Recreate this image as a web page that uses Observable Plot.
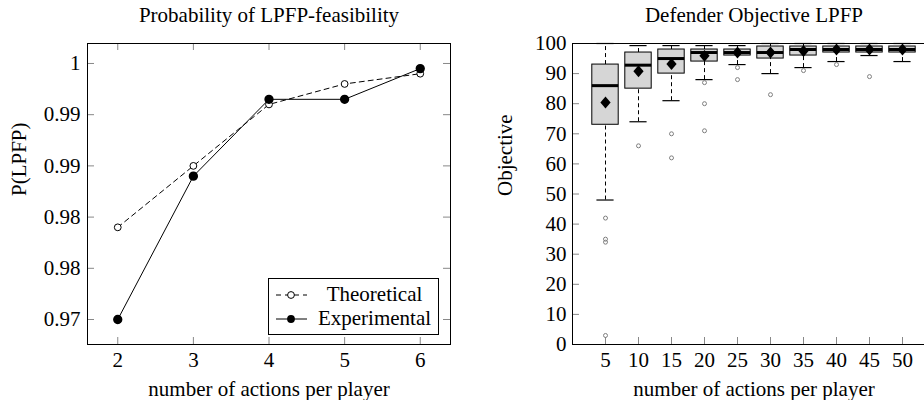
<!DOCTYPE html>
<html><head><meta charset="utf-8">
<script src="https://cdn.jsdelivr.net/npm/d3@7"></script>
<script src="https://cdn.jsdelivr.net/npm/@observablehq/plot@0.6"></script>
<style>
body{margin:0;background:#fff;}
#wrap{position:relative;width:924px;height:400px;overflow:hidden;display:flex;font-family:"Liberation Serif",serif;}
.panel{position:relative;flex:none;}
.legend{position:absolute;left:268px;top:278px;width:171px;height:57px;border:1px solid #000;box-sizing:border-box;background:#fff;font-size:21px;color:#000;font-family:"Liberation Serif",serif;}
.legend .row{position:absolute;left:0;width:100%;height:24px;}
.legend svg{position:absolute;left:6px;top:0;}
.legend span{position:absolute;left:42px;right:0;text-align:center;top:-1px;line-height:24px;}
</style></head>
<body><div id="wrap"><div class="panel" id="left"></div><div class="panel" id="right"></div></div>
<script>
// ---------- Left chart data ----------
const actions = [2, 3, 4, 5, 6];
const theoretical = [0.979, 0.985, 0.991, 0.993, 0.994];
const experimental = [0.970, 0.984, 0.9915, 0.9915, 0.9945];
const leftYTicks = [0.97, 0.975, 0.98, 0.985, 0.99, 0.995];
const leftYTickLabels = ["0.97", "0.98", "0.98", "0.99", "0.99", "1"];
const leftTitle = "Probability of LPFP-feasibility";
const leftYLabel = "P(LPFP)";
const xLabel = "number of actions per player";
const seriesNames = ["Theoretical", "Experimental"];

// ---------- Right chart data ----------
const boxActions = [5, 10, 15, 20, 25, 30, 35, 40, 45, 50];
const lowerWhisker = [48, 74, 81, 88, 93, 90, 92, 94, 96, 94];
const q1 = [73, 85, 90, 94, 96, 95, 96, 97, 97, 97];
const median = [86, 92.8, 95, 97, 97, 97, 98, 98, 98, 98];
const q3 = [93, 97, 98, 98, 98, 99, 99, 99, 99, 99];
const upperWhisker = [100, 99.3, 99.3, 99.3, 99.3, 100, 100, 100, 100, 100];
const means = [80.4, 90.8, 93.2, 95.9, 97, 97, 97.5, 98, 98, 98];
const outlierActions = [5, 5, 5, 5, 10, 15, 15, 20, 20, 20, 25, 25, 30, 35, 40, 45];
const outlierValues = [42, 35, 34, 3, 66, 70, 62, 87, 80, 71, 92, 88, 83, 91, 93, 89];
const rightYTicks = [0, 10, 20, 30, 40, 50, 60, 70, 80, 90, 100];
const rightTitle = "Defender Objective LPFP";
const rightYLabel = "Objective";

const FONT = '"Liberation Serif", serif';
const baseStyle = {fontFamily: FONT, fontSize: "21px", color: "#000", background: "transparent", overflow: "hidden"};

// ---------- Left chart ----------
const leftData = actions.map((a, i) => ({a, t: theoretical[i], e: experimental[i]}));
const LW = 460, LH = 400, LML = 87, LMR = 10, LMT = 43, LMB = 56;
const lInnerW = LW - LML - LMR, lInnerH = LH - LMT - LMB;
const TL = 7;

const left = Plot.plot({
  width: LW, height: LH, marginLeft: LML, marginRight: LMR, marginTop: LMT, marginBottom: LMB,
  style: baseStyle,
  x: {domain: [1.6, 6.4], ticks: actions, tickFormat: d => String(d), tickSize: 0, tickPadding: 8, label: null},
  y: {domain: [0.96756, 0.99695], ticks: leftYTicks, tickFormat: d => leftYTickLabels[leftYTicks.indexOf(d)], tickSize: 0, tickPadding: 7, label: null},
  marks: [
    Plot.tickX(actions, {x: d => d, insetTop: lInnerH - TL, stroke: "#888"}),
    Plot.tickX(actions, {x: d => d, insetBottom: lInnerH - TL, stroke: "#888"}),
    Plot.tickY(leftYTicks, {y: d => d, insetRight: lInnerW - TL, stroke: "#888"}),
    Plot.tickY(leftYTicks, {y: d => d, insetLeft: lInnerW - TL, stroke: "#888"}),
    Plot.frame({stroke: "#000", strokeWidth: 1}),
    Plot.line(leftData, {x: "a", y: "t", stroke: "#000", strokeWidth: 1, strokeDasharray: "5,4"}),
    Plot.dot(leftData, {x: "a", y: "t", r: 3.4, stroke: "#000", fill: "#fff", strokeWidth: 1}),
    Plot.line(leftData, {x: "a", y: "e", stroke: "#000", strokeWidth: 1}),
    Plot.dot(leftData, {x: "a", y: "e", r: 3.9, fill: "#000", stroke: "#000"}),
    Plot.text([leftTitle], {frameAnchor: "top", dy: -22, lineAnchor: "bottom", fontSize: 21, fill: "#000"}),
    Plot.text([xLabel], {frameAnchor: "bottom", dy: 51, lineAnchor: "bottom", fontSize: 21, fill: "#000"}),
    Plot.text([leftYLabel], {frameAnchor: "left", dx: -68, dy: 2, rotate: -90, lineAnchor: "middle", fontSize: 21, fill: "#000"})
  ]
});
document.getElementById("left").appendChild(left);

// Legend
const lg = document.createElement("div");
lg.className = "legend";
lg.innerHTML = `
 <div class="row" style="top:4px"><svg width="34" height="24"><line x1="1" y1="12" x2="32" y2="12" stroke="#000" stroke-dasharray="5,4"/><circle cx="16" cy="12" r="3.4" fill="#fff" stroke="#000"/></svg><span>${seriesNames[0]}</span></div>
 <div class="row" style="top:28px"><svg width="34" height="24"><line x1="1" y1="12" x2="32" y2="12" stroke="#000"/><circle cx="16" cy="12" r="3.9" fill="#000"/></svg><span>${seriesNames[1]}</span></div>`;
document.getElementById("left").appendChild(lg);

// ---------- Right chart ----------
const boxes = boxActions.map((a, i) => ({a, lo: lowerWhisker[i], q1: q1[i], med: median[i], q3: q3[i], hi: upperWhisker[i], mean: means[i]}));
const outliers = outlierActions.map((a, i) => ({a, v: outlierValues[i]}));
const RW = 464, RH = 400, RML = 112, RMT = 43, RMB = 56;
const rInnerW = RW - RML, rInnerH = RH - RMT - RMB;
const pxPerUnit = 6.6;
const BOXHALF = 2, CAPHALF = 1.3;

const diamond = {
  draw(ctx, size) {
    const h = Math.sqrt(size) * 0.6, w = h * 0.86;
    ctx.moveTo(0, -h); ctx.lineTo(w, 0); ctx.lineTo(0, h); ctx.lineTo(-w, 0); ctx.closePath();
  }
};

const right = Plot.plot({
  width: RW, height: RH, marginLeft: RML, marginRight: 0, marginTop: RMT, marginBottom: RMB,
  style: baseStyle,
  x: {domain: [0, 55], range: [RML, RML + 55 * pxPerUnit], ticks: boxActions, tickFormat: d => String(d), tickSize: 0, tickPadding: 8, label: null},
  y: {domain: [0, 100], ticks: rightYTicks, tickFormat: d => String(d), tickSize: 0, tickPadding: 6, label: null},
  marks: [
    Plot.tickX(boxActions, {x: d => d, insetTop: rInnerH - TL, stroke: "#888"}),
    Plot.tickY(rightYTicks, {y: d => d, insetRight: rInnerW - TL, stroke: "#888"}),
    Plot.ruleX(boxes, {x: "a", y1: "q3", y2: "hi", stroke: "#000", strokeDasharray: "4,3"}),
    Plot.ruleX(boxes, {x: "a", y1: "lo", y2: "q1", stroke: "#000", strokeDasharray: "4,3"}),
    Plot.ruleY(boxes, {y: "hi", x1: d => d.a - CAPHALF, x2: d => d.a + CAPHALF, stroke: "#000", strokeWidth: 1.2}),
    Plot.ruleY(boxes, {y: "lo", x1: d => d.a - CAPHALF, x2: d => d.a + CAPHALF, stroke: "#000", strokeWidth: 1.2}),
    Plot.rect(boxes, {x1: d => d.a - BOXHALF, x2: d => d.a + BOXHALF, y1: "q1", y2: "q3", fill: "#d6d6d6", stroke: "#000", strokeWidth: 1}),
    Plot.ruleY(boxes, {y: "med", x1: d => d.a - BOXHALF, x2: d => d.a + BOXHALF, stroke: "#000", strokeWidth: 3}),
    Plot.dot(boxes, {x: "a", y: "mean", symbol: diamond, r: 5.6, fill: "#000", stroke: "none"}),
    Plot.dot(outliers, {x: "a", y: "v", r: 2, stroke: "#808080", fill: "none", strokeWidth: 1}),
    Plot.ruleX([0], {stroke: "#000"}),
    Plot.ruleY([0, 100], {stroke: "#000"}),
    Plot.text([rightTitle], {x: 27.5, frameAnchor: "top", dy: -22, lineAnchor: "bottom", fontSize: 21, fill: "#000"}),
    Plot.text([xLabel], {x: 27.5, frameAnchor: "bottom", dy: 51, lineAnchor: "bottom", fontSize: 21, fill: "#000"}),
    Plot.text([rightYLabel], {frameAnchor: "left", dx: -67, dy: 2, rotate: -90, lineAnchor: "middle", fontSize: 21, fill: "#000"})
  ]
});
document.getElementById("right").appendChild(right);
</script>
</body></html>
